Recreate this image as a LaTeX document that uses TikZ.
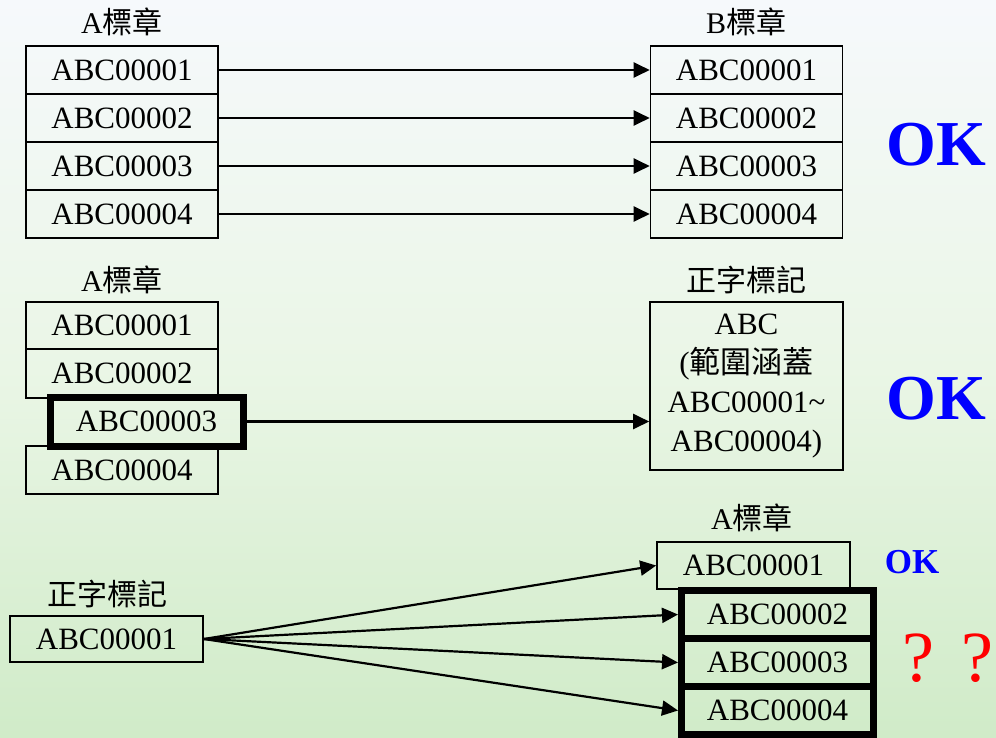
\documentclass[tikz,border=0pt]{standalone}
\usepackage{fontspec}
\setmainfont{Liberation Serif}
\newfontfamily\cjk{Noto Sans CJK TC}
\usetikzlibrary{arrows.meta}
\definecolor{bgtop}{RGB}{246,249,252}
\definecolor{bgmid}{RGB}{234,246,230}
\definecolor{bgbot}{RGB}{208,235,200}
\definecolor{okblue}{RGB}{0,0,255}
\tikzset{
  cell/.style={draw, line width=1.6pt, inner sep=0pt, minimum width=192pt, minimum height=48pt,
    font=\fontsize{31}{36}\selectfont},
  thickcell/.style={cell, line width=7pt},
  lbl/.style={inner sep=0pt, font=\fontsize{30}{34}\selectfont},
  conn/.style={line width=2.2pt, -{Triangle[length=16pt,width=15pt]}},
  okbig/.style={inner sep=0pt, text=okblue, font=\fontsize{64}{70}\selectfont\bfseries},
  oksmall/.style={inner sep=0pt, text=okblue, font=\fontsize{35}{40}\selectfont\bfseries},
}
\begin{document}
\begin{tikzpicture}[x=1pt,y=-1pt]
\useasboundingbox (0,0) rectangle (996,737);
\shade[top color=bgtop, bottom color=bgbot, middle color=bgmid] (0,0) rectangle (996,737);

% ---- top section ----
\node[lbl] (tla) at (122,22) {A{\cjk 標章}};
\node[lbl] (tlb) at (746,22) {B{\cjk 標章}};
\node[cell] (a1) at (122,70) {ABC00001};
\node[cell] (a2) at (122,118) {ABC00002};
\node[cell] (a3) at (122,166) {ABC00003};
\node[cell] (a4) at (122,214) {ABC00004};
\node[cell] (b1) at (746.5,70) {ABC00001};
\node[cell] (b2) at (746.5,118) {ABC00002};
\node[cell] (b3) at (746.5,166) {ABC00003};
\node[cell] (b4) at (746.5,214) {ABC00004};
\draw[conn] (a1) -- (b1);
\draw[conn] (a2) -- (b2);
\draw[conn] (a3) -- (b3);
\draw[conn] (a4) -- (b4);
\node[okbig] (ok1) at (936,145) {OK};

% ---- middle section ----
\node[lbl] (mla) at (122,280) {A{\cjk 標章}};
\node[lbl] (mlz) at (746,280) {\cjk 正字標記};
\node[cell, minimum height=47pt] (m1) at (122,325.5) {ABC00001};
\node[cell, minimum height=49pt] (m2) at (122,373.5) {ABC00002};
\node[cell] (m4) at (122,470) {ABC00004};
\node[thickcell, minimum height=49pt, minimum width=193pt] (m3) at (146.5,421.5) {ABC00003};
\node[cell, minimum width=193pt, minimum height=168pt, align=center,
      font=\fontsize{31}{39}\selectfont] (mz) at (746.5,386)
  {ABC\\({\cjk 範圍涵蓋}\\ABC00001\textasciitilde\\ABC00004)};
\draw[conn] (m3.east) -- (m3.east -| mz.west);
\node[okbig] (ok2) at (936,399) {OK};

% ---- bottom section ----
\node[lbl] (blz) at (107,594) {\cjk 正字標記};
\node[lbl] (bla) at (752,518) {A{\cjk 標章}};
\node[cell, minimum width=193pt, minimum height=46pt] (s) at (106.5,639) {ABC00001};
\node[cell, minimum width=193pt, minimum height=47pt] (c1) at (753.5,565.5) {ABC00001};
\node[thickcell] (c2) at (777.5,614.5) {ABC00002};
\node[thickcell] (c3) at (777.5,662.5) {ABC00003};
\node[thickcell] (c4) at (777.5,710.5) {ABC00004};
\draw[conn] (s.east) -- (c1.west);
\draw[conn] (s.east) -- (c2.west);
\draw[conn] (s.east) -- (c3.west);
\draw[conn] (s.east) -- (c4.west);
\node[oksmall] (ok3) at (912,562) {OK};
\node[inner sep=0pt, text=red, font=\fontsize{72}{76}\selectfont] (qq) at (948,658) {?\hspace{28pt}?};
\end{tikzpicture}
\end{document}
